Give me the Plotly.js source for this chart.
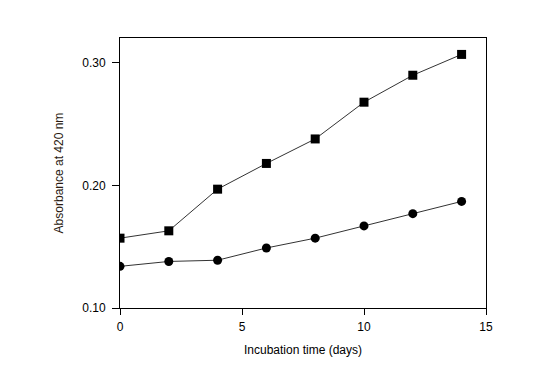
<!DOCTYPE html>
<html>
<head>
<meta charset="utf-8">
<script src="https://cdn.plot.ly/plotly-3.0.1.min.js"></script>
<style>html,body{margin:0;padding:0;background:#fff;}#chart{width:556px;height:380px;}</style>
</head>
<body>
<div id="chart"></div>
<script>
const days = [0, 2, 4, 6, 8, 10, 12, 14];
const squareSeries = [0.157, 0.163, 0.197, 0.218, 0.238, 0.268, 0.290, 0.307];
const circleSeries = [0.134, 0.138, 0.139, 0.149, 0.157, 0.167, 0.177, 0.187];
const yTicks = [0.10, 0.20, 0.30];
const yTickLabels = ['0.10', '0.20', '0.30'];
const xTicks = [0, 5, 10, 15];

const traces = [
  {x: days, y: squareSeries, mode: 'lines+markers', type: 'scatter',
   line: {color: '#333', width: 1}, marker: {symbol: 'square', size: 9, color: '#000'}},
  {x: days, y: circleSeries, mode: 'lines+markers', type: 'scatter',
   line: {color: '#333', width: 1}, marker: {symbol: 'circle', size: 9, color: '#000'}}
];

const layout = {
  width: 556, height: 380,
  margin: {l: 120, r: 70, t: 38, b: 72},
  paper_bgcolor: '#fff', plot_bgcolor: '#fff',
  showlegend: false,
  font: {family: 'Liberation Sans, Arial, sans-serif', size: 12, color: '#000'},
  xaxis: {
    range: [0, 15], tickvals: xTicks, ticks: 'outside', ticklen: 6, tickwidth: 1, tickcolor: '#000',
    showline: true, linecolor: '#000', linewidth: 1, mirror: true, showgrid: false, zeroline: false,
    tickfont: {size: 12}, ticklabelstandoff: 2,
    title: {text: 'Incubation time (days)', font: {size: 12}, standoff: 12}
  },
  yaxis: {
    range: [0.10, 0.3204], tickvals: yTicks, ticktext: yTickLabels, ticks: 'outside', ticklen: 7, tickwidth: 1, tickcolor: '#000',
    showline: true, linecolor: '#000', linewidth: 1, mirror: true, showgrid: false, zeroline: false,
    tickfont: {size: 12}, ticklabelstandoff: 4,
    title: {text: 'Absorbance at 420 nm', font: {size: 12, color: '#2a1a10'}, standoff: 16}
  }
};

Plotly.newPlot('chart', traces, layout, {displayModeBar: false, staticPlot: true});
</script>
</body>
</html>
